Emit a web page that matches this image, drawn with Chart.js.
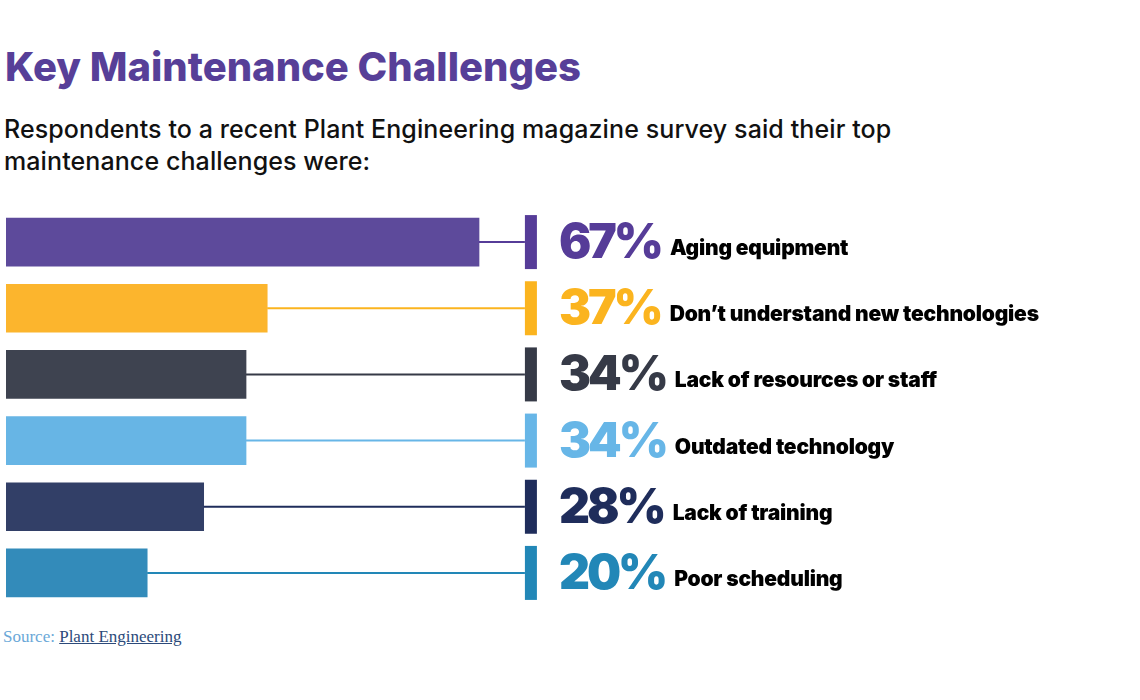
<!DOCTYPE html>
<html>
<head>
<meta charset="utf-8">
<script src="https://cdn.jsdelivr.net/npm/chart.js@4"></script>
<style>
  body { margin: 0; background: #fff; width: 1140px; height: 700px; position: relative; overflow: hidden; }
  #title { position: absolute; left: 5px; top: 42px; font: 800 40px Inter, sans-serif; color: #573f98; white-space: nowrap; }
  #sub { position: absolute; left: 4px; top: 113px; font: 500 25px Inter, sans-serif; line-height: 32px; color: #111; letter-spacing: 0.1px; }
  #chart { position: absolute; left: 0; top: 200px; }
  #src { position: absolute; left: 3px; top: 627px; font: 17px "Liberation Serif", serif; color: #6aa8d8; }
  #src a { color: #2c4a7a; }
</style>
</head>
<body>
<div id="title">Key Maintenance Challenges</div>
<div id="sub">Respondents to a recent Plant Engineering magazine survey said their top<br>maintenance challenges were:</div>
<canvas id="chart" width="1140" height="420"></canvas>
<div id="src">Source: <a href="#">Plant Engineering</a></div>
<script>
// Survey answers, top to bottom
const challenges = ['Aging equipment', 'Don\u2019t understand new technologies', 'Lack of resources or staff',
                    'Outdated technology', 'Lack of training', 'Poor scheduling'];
const percents = [67, 37, 34, 34, 28, 20];

const barColors = ['#5d4a9b', '#fcb52d', '#3e4350', '#67b5e5', '#323f67', '#338bba'];
const accentColors = ['#563c98', '#fbb41f', '#363a47', '#67b6e7', '#1f2d5b', '#2287b7'];

// connector line, marker block and the big number + label on the right
const calloutPlugin = {
    id: 'callout',
    afterDatasetsDraw(chart, args, opts) {
        const ctx = chart.ctx;
        const meta = chart.getDatasetMeta(0);
        const markerX = chart.scales.x.getPixelForValue(opts.markerAt);
        meta.data.forEach((bar, i) => {
            const y = bar.y;
            const color = accentColors[i];
            ctx.save();
            ctx.strokeStyle = color;
            ctx.lineWidth = 2;
            ctx.beginPath();
            ctx.moveTo(bar.x, y);
            ctx.lineTo(markerX, y);
            ctx.stroke();
            ctx.fillStyle = color;
            ctx.fillRect(markerX, y - 27, 12, 54);

            ctx.font = '900 48px Inter, sans-serif';
            ctx.textBaseline = 'alphabetic';
            ctx.letterSpacing = '-3px';
            const num = percents[i] + '%';
            const nx = markerX + 34;
            ctx.fillText(num, nx, y + 16);
            const w = ctx.measureText(num).width;

            ctx.fillStyle = '#000';
            ctx.font = '900 21px Inter, sans-serif';
            ctx.letterSpacing = '-0.2px';
            ctx.fillText(challenges[i], nx + w + 9, y + 13);
            ctx.restore();
        });
    }
};

new Chart(document.getElementById('chart'), {
    type: 'bar',
    data: {
        labels: challenges,
        datasets: [{
            data: percents,
            backgroundColor: barColors,
            borderWidth: 0,
            barThickness: 48
        }]
    },
    options: {
        indexAxis: 'y',
        responsive: false,
        animation: false,
        layout: { padding: { left: 6, right: 428, top: 9, bottom: 14 } },
        scales: {
            x: { min: 0, max: 100, display: false },
            y: { display: false }
        },
        plugins: {
            legend: { display: false },
            tooltip: { enabled: false },
            callout: { markerAt: 73.5 }
        }
    },
    plugins: [calloutPlugin]
});
</script>
</body>
</html>
